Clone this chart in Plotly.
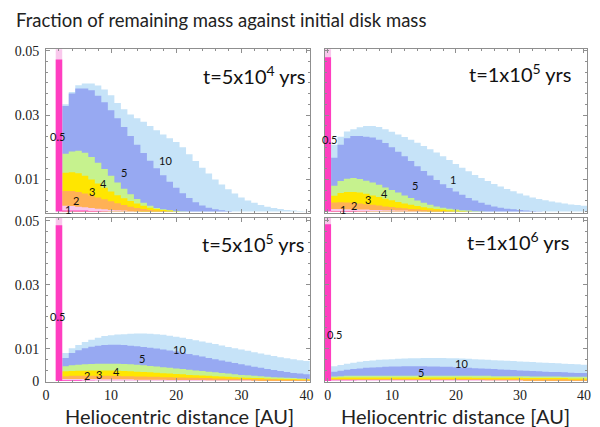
import plotly.graph_objects as go

# bin centres (AU)
left_bins = list(range(2, 41))    # left column: bins 2..40
right_bins = list(range(0, 41))   # right column: bins 0..40

sizes = ["10", "5", "4", "3", "2", "1", "0.5"]
colors = {"10": "#c6e3f8", "5": "#97a9f2", "4": "#c6f28e", "3": "#ffe600",
          "2": "#ffb155", "1": "#f9c8ec", "0.5": "#ff3ec0"}

# ---------- t = 5x10^4 yrs (top-left), bins 2..40 ----------
tl_10 = [0, 0.0334, 0.0372, 0.0393, 0.0398, 0.0398, 0.0392, 0.0380, 0.0362, 0.0338, 0.0318,
         0.0302, 0.0290, 0.0279, 0.0266, 0.0253, 0.0240, 0.0228, 0.0216, 0.0200, 0.0178,
         0.0157, 0.0136, 0.0118, 0.0100, 0.0084, 0.0069, 0.0056, 0.0044, 0.0034, 0.0027,
         0.0020, 0.0015, 0.0011, 0.0008, 0.0005, 0.0003, 0.0002, 0.0001]
tl_5 = [0, 0.0328, 0.0367, 0.0383, 0.0383, 0.0377, 0.0360, 0.0340, 0.0315, 0.0290, 0.0263,
        0.0235, 0.0208, 0.0182, 0.0158, 0.0135, 0.0113, 0.0093, 0.0074, 0.0057, 0.0042,
        0.0029, 0.0019, 0.0012, 0.0007, 0.0004, 0.0002]
tl_4 = [0, 0.0180, 0.0187, 0.0189, 0.0183, 0.0170, 0.0152, 0.0132, 0.0111, 0.0090, 0.0071,
        0.0054, 0.0039, 0.0027, 0.0018, 0.0011, 0.0007, 0.0004, 0.0002, 0.0001]
tl_3 = [0, 0.0121, 0.0122, 0.0119, 0.0111, 0.0100, 0.0087, 0.0074, 0.0062, 0.0051, 0.0041,
        0.0033, 0.0025, 0.0018, 0.0012, 0.0008, 0.0005, 0.0003, 0.0001]
tl_2 = [0, 0.0064, 0.0064, 0.0061, 0.0056, 0.0050, 0.0044, 0.0038, 0.0032, 0.0026, 0.0020,
        0.0015, 0.0011, 0.0008, 0.0005, 0.0003, 0.0002, 0.0001]
tl_1 = [0.0515, 0.0018, 0.0017, 0.0015, 0.0013, 0.0011, 0.0009, 0.0007, 0.0005, 0.0004,
        0.0003, 0.0002, 0.0001]
tl_05 = [0.0473, 0.0003, 0.0003, 0.0003, 0.0003, 0.0002, 0.0002, 0.0001]

# ---------- t = 1x10^5 yrs (top-right), bins 0..40 ----------
tr_10 = [0, 0.0208, 0.0233, 0.0249, 0.0256, 0.0262, 0.0266, 0.0266, 0.0263, 0.0256, 0.0248,
         0.0240, 0.0232, 0.0223, 0.0214, 0.0204, 0.0194, 0.0184, 0.0172, 0.0160, 0.0148,
         0.0136, 0.0125, 0.0114, 0.0104, 0.0095, 0.0086, 0.0078, 0.0070, 0.0063, 0.0056,
         0.0050, 0.0044, 0.0039, 0.0035, 0.0031, 0.0028, 0.0025, 0.0022, 0.0020, 0.0018]
tr_5 = [0, 0.0167, 0.0208, 0.0228, 0.0235, 0.0235, 0.0233, 0.0230, 0.0223, 0.0213, 0.0200,
        0.0186, 0.0172, 0.0157, 0.0141, 0.0126, 0.0112, 0.0098, 0.0085, 0.0073, 0.0062,
        0.0052, 0.0042, 0.0034, 0.0027, 0.0021, 0.0016, 0.0012, 0.0009, 0.0007, 0.0005,
        0.0003, 0.0002, 0.0001]
tr_4 = [0, 0.0080, 0.0095, 0.0102, 0.0104, 0.0101, 0.0096, 0.0090, 0.0083, 0.0075, 0.0067,
        0.0059, 0.0050, 0.0042, 0.0034, 0.0027, 0.0021, 0.0016, 0.0012, 0.0009, 0.0006,
        0.0004, 0.0003, 0.0002, 0.0001]
tr_3 = [0, 0.0049, 0.0058, 0.0061, 0.0061, 0.0059, 0.0055, 0.0050, 0.0045, 0.0040, 0.0035,
        0.0030, 0.0025, 0.0021, 0.0017, 0.0013, 0.0010, 0.0008, 0.0006, 0.0004, 0.0003,
        0.0002, 0.0001]
tr_2 = [0, 0.0028, 0.0029, 0.0028, 0.0027, 0.0025, 0.0023, 0.0021, 0.0019, 0.0016, 0.0014,
        0.0012, 0.0010, 0.0008, 0.0007, 0.0005, 0.0004, 0.0003, 0.0002, 0.0001]
tr_1 = [0.0515, 0.0008, 0.0008, 0.0007, 0.0007, 0.0006, 0.0006, 0.0005, 0.0005, 0.0004,
        0.0004, 0.0003, 0.0003, 0.0002, 0.0002, 0.0001]
tr_05 = [0.0480, 0.0002, 0.0002, 0.0002, 0.0002, 0.0001, 0.0001]

# ---------- t = 5x10^5 yrs (bottom-left), bins 2..40 ----------
bl_10 = [0, 0.0087, 0.0102, 0.0112, 0.0122, 0.0129, 0.0135, 0.0140, 0.0143, 0.0145, 0.0146,
         0.0147, 0.0148, 0.0148, 0.0147, 0.0146, 0.0144, 0.0141, 0.0138, 0.0135, 0.0131,
         0.0127, 0.0123, 0.0119, 0.0115, 0.0111, 0.0106, 0.0102, 0.0098, 0.0094, 0.0090,
         0.0086, 0.0082, 0.0078, 0.0074, 0.0071, 0.0068, 0.0065, 0.0062]
bl_5 = [0, 0.0072, 0.0087, 0.0096, 0.0102, 0.0107, 0.0110, 0.0112, 0.0113, 0.0113, 0.0112,
        0.0110, 0.0108, 0.0106, 0.0104, 0.0101, 0.0098, 0.0095, 0.0092, 0.0088, 0.0084,
        0.0080, 0.0076, 0.0072, 0.0068, 0.0064, 0.0060, 0.0056, 0.0052, 0.0048, 0.0044,
        0.0041, 0.0037, 0.0034, 0.0031, 0.0028, 0.0025, 0.0023, 0.0021]
bl_4 = [0, 0.0046, 0.0049, 0.0051, 0.0052, 0.0053, 0.0054, 0.0054, 0.0054, 0.0054, 0.0053,
        0.0052, 0.0051, 0.0049, 0.0047, 0.0045, 0.0043, 0.0041, 0.0039, 0.0037, 0.0035,
        0.0033, 0.0031, 0.0029, 0.0027, 0.0025, 0.0023, 0.0021, 0.0019, 0.0018, 0.0016,
        0.0015, 0.0013, 0.0012, 0.0011, 0.0010, 0.0009, 0.0008, 0.0007]
bl_3 = [0, 0.0030, 0.0031, 0.0032, 0.0032, 0.0033, 0.0033, 0.0033, 0.0033, 0.0032, 0.0031,
        0.0030, 0.0029, 0.0028, 0.0027, 0.0026, 0.0024, 0.0023, 0.0022, 0.0021, 0.0019,
        0.0018, 0.0017, 0.0016, 0.0015, 0.0014, 0.0013, 0.0012, 0.0011, 0.0010, 0.0009,
        0.0009, 0.0008, 0.0007, 0.0007, 0.0006, 0.0006, 0.0005, 0.0005]
bl_2 = [0, 0.0015, 0.0016, 0.0016, 0.0016, 0.0016, 0.0016, 0.0016, 0.0016, 0.0016, 0.0015,
        0.0015, 0.0014, 0.0014, 0.0013, 0.0013, 0.0012, 0.0012, 0.0011, 0.0011, 0.0010,
        0.0010, 0.0009, 0.0009, 0.0008, 0.0008, 0.0007, 0.0007, 0.0006, 0.0006, 0.0006,
        0.0005, 0.0005, 0.0005, 0.0004, 0.0004, 0.0004, 0.0003, 0.0003]
bl_1 = [0.0515, 0.0006, 0.0006, 0.0006, 0.0006, 0.0006, 0.0006, 0.0005, 0.0005, 0.0005, 0.0005,
        0.0005, 0.0004, 0.0004, 0.0004, 0.0004, 0.0004, 0.0003, 0.0003, 0.0003, 0.0003,
        0.0003, 0.0003, 0.0002, 0.0002, 0.0002, 0.0002, 0.0002, 0.0002, 0.0002, 0.0001]
bl_05 = [0.0486, 0.0002, 0.0002, 0.0002, 0.0001, 0.0001]

# ---------- t = 1x10^6 yrs (bottom-right), bins 0..40 ----------
br_10 = [0, 0.0046, 0.0050, 0.0054, 0.0057, 0.0060, 0.0062, 0.0064, 0.0066, 0.0067, 0.0068,
         0.0069, 0.0070, 0.0071, 0.0071, 0.0072, 0.0072, 0.0072, 0.0072, 0.0071, 0.0071,
         0.0070, 0.0069, 0.0068, 0.0067, 0.0066, 0.0065, 0.0064, 0.0063, 0.0062, 0.0061,
         0.0060, 0.0059, 0.0058, 0.0057, 0.0056, 0.0055, 0.0054, 0.0053, 0.0052, 0.0051]
br_5 = [0, 0.0029, 0.0032, 0.0035, 0.0037, 0.0039, 0.0041, 0.0042, 0.0043, 0.0044, 0.0045,
        0.0045, 0.0046, 0.0046, 0.0046, 0.0046, 0.0045, 0.0045, 0.0044, 0.0044, 0.0043,
        0.0042, 0.0041, 0.0040, 0.0039, 0.0038, 0.0037, 0.0036, 0.0035, 0.0034, 0.0033,
        0.0032, 0.0031, 0.0030, 0.0029, 0.0028, 0.0028, 0.0027, 0.0026, 0.0025, 0.0025]
br_4 = [0, 0.0014, 0.0015, 0.0016, 0.0016, 0.0016, 0.0016, 0.0016, 0.0016, 0.0016, 0.0016,
        0.0016, 0.0016, 0.0016, 0.0016, 0.0016, 0.0016, 0.0016, 0.0016, 0.0016, 0.0016,
        0.0016, 0.0016, 0.0016, 0.0016, 0.0016, 0.0015, 0.0015, 0.0015, 0.0015, 0.0015,
        0.0015, 0.0014, 0.0014, 0.0014, 0.0014, 0.0014, 0.0013, 0.0013, 0.0013, 0.0013]
br_3 = [0, 0.0010, 0.0011, 0.0011, 0.0011, 0.0011, 0.0011, 0.0011, 0.0011, 0.0011, 0.0011,
        0.0011, 0.0011, 0.0011, 0.0011, 0.0011, 0.0011, 0.0011, 0.0011, 0.0011, 0.0011,
        0.0011, 0.0011, 0.0010, 0.0010, 0.0010, 0.0010, 0.0010, 0.0010, 0.0010, 0.0010,
        0.0009, 0.0009, 0.0009, 0.0009, 0.0009, 0.0009, 0.0009, 0.0008, 0.0008, 0.0008]
br_2 = [0, 0.0006, 0.0006, 0.0006, 0.0006, 0.0006, 0.0006, 0.0006, 0.0006, 0.0006, 0.0006,
        0.0006, 0.0006, 0.0006, 0.0006, 0.0006, 0.0006, 0.0006, 0.0006, 0.0006, 0.0006,
        0.0006, 0.0006, 0.0006, 0.0006, 0.0005, 0.0005, 0.0005, 0.0005, 0.0005, 0.0005,
        0.0005, 0.0005, 0.0005, 0.0005, 0.0005, 0.0005, 0.0005, 0.0004, 0.0004, 0.0004]
br_1 = [0.0515, 0.0003, 0.0003, 0.0003, 0.0003, 0.0003, 0.0003, 0.0003, 0.0003, 0.0003, 0.0003,
        0.0003, 0.0003, 0.0003, 0.0003, 0.0003, 0.0003, 0.0003, 0.0003, 0.0003, 0.0003,
        0.0003, 0.0003, 0.0003, 0.0003, 0.0002, 0.0002, 0.0002, 0.0002, 0.0002, 0.0002]
br_05 = [0.0489, 0.0001, 0.0001, 0.0001, 0.0001]

panels = [
    (left_bins, {"10": tl_10, "5": tl_5, "4": tl_4, "3": tl_3, "2": tl_2, "1": tl_1, "0.5": tl_05}, "x", "y"),
    (right_bins, {"10": tr_10, "5": tr_5, "4": tr_4, "3": tr_3, "2": tr_2, "1": tr_1, "0.5": tr_05}, "x2", "y2"),
    (left_bins, {"10": bl_10, "5": bl_5, "4": bl_4, "3": bl_3, "2": bl_2, "1": bl_1, "0.5": bl_05}, "x3", "y3"),
    (right_bins, {"10": br_10, "5": br_5, "4": br_4, "3": br_3, "2": br_2, "1": br_1, "0.5": br_05}, "x4", "y4"),
]

# in-plot size labels: (text, x AU, y value)
tl_labels = [("0.5", 1.85, 0.0232), ("1", 3.4, 0.0007), ("2", 4.6, 0.0033), ("3", 7.0, 0.0061),
             ("4", 8.85, 0.0088), ("5", 12.0, 0.0121), ("10", 18.4, 0.0158)]
tr_labels = [("0.5", 0.2, 0.0225), ("1", 2.4, 0.0006), ("2", 4.1, 0.0018), ("3", 6.3, 0.0038),
             ("4", 8.9, 0.0057), ("5", 13.6, 0.0082), ("1", 19.5, 0.0100)]
bl_labels = [("0.5", 1.85, 0.0200), ("2", 6.35, 0.0016), ("3", 8.2, 0.0019), ("4", 10.9, 0.0029),
             ("5", 14.7, 0.0070), ("10", 20.5, 0.0099)]
br_labels = [("0.5", 1.05, 0.0145), ("5", 14.55, 0.0026), ("10", 20.9, 0.0055)]
panel_labels = [tl_labels, tr_labels, bl_labels, br_labels]
time_labels = ["t=5x10<sup>4</sup> yrs", "t=1x10<sup>5</sup> yrs",
               "t=5x10<sup>5</sup> yrs", "t=1x10<sup>6</sup> yrs"]

fig = go.Figure()

for bins, series, xa, ya in panels:
    for s in sizes:
        vals = series[s] + [0] * (len(bins) - len(series[s]))
        edges = [c - 0.5 for c in bins] + [bins[-1] + 0.5]
        ys = vals + [vals[-1]]
        fig.add_trace(go.Scatter(
            x=edges, y=ys, mode="lines",
            line=dict(width=0, shape="hv", color=colors[s]),
            fill="tozeroy", fillcolor=colors[s],
            xaxis=xa, yaxis=ya, hoverinfo="skip", showlegend=False))

W, H = 600, 427
def px_x(p):
    return p / W
def px_y(p):
    return 1 - p / H

frame = "#8f8f8f"
left_dom = [px_x(42.5), px_x(310)]
right_dom = [px_x(325), px_x(591)]
top_dom = [px_y(214), px_y(45.5)]
bot_dom = [px_y(387.5), px_y(219)]

xtick_font = dict(family="Liberation Serif", size=14, color="#222")
ytick_font = dict(family="Liberation Serif", size=14, color="#222")

def xaxis(dom, rng, labels, anchor):
    return dict(domain=dom, range=rng, anchor=anchor, showgrid=False, zeroline=False,
                showline=True, linecolor=frame, linewidth=1, mirror="ticks",
                ticks="inside", ticklen=4, tickcolor=frame, tickwidth=1,
                tickvals=[0, 10, 20, 30, 40], showticklabels=labels, tickfont=xtick_font,
                ticklabelstandoff=1,
                minor=dict(dtick=2, tick0=0, ticks="inside", ticklen=2, tickcolor=frame))

def yaxis(dom, rng, vals, labels, anchor):
    return dict(domain=dom, range=rng, anchor=anchor, showgrid=False, zeroline=False,
                showline=True, linecolor=frame, linewidth=1, mirror="ticks",
                ticks="inside", ticklen=4, tickcolor=frame, tickwidth=1,
                tickvals=vals, ticktext=[("0" if v == 0 else "%.2f" % v) for v in vals],
                showticklabels=labels, tickfont=ytick_font, ticklabelstandoff=3,
                minor=dict(dtick=0.01 / 3, tick0=0, ticks="inside", ticklen=2, tickcolor=frame))

top_rng = [-0.00045, 0.0505]
bot_rng = [-0.0002, 0.0509]

fig.update_layout(
    width=W, height=H, margin=dict(l=0, r=0, t=0, b=0),
    paper_bgcolor="white", plot_bgcolor="white",
    xaxis=xaxis(left_dom, [0, 40.5], False, "y"),
    yaxis=yaxis(top_dom, top_rng, [0.01, 0.03, 0.05], True, "x"),
    xaxis2=xaxis(right_dom, [-0.5, 40.5], False, "y2"),
    yaxis2=yaxis(top_dom, top_rng, [0.01, 0.03, 0.05], False, "x2"),
    xaxis3=xaxis(left_dom, [0, 40.5], True, "y3"),
    yaxis3=yaxis(bot_dom, bot_rng, [0, 0.01, 0.03, 0.05], True, "x3"),
    xaxis4=xaxis(right_dom, [-0.5, 40.5], True, "y4"),
    yaxis4=yaxis(bot_dom, bot_rng, [0, 0.01, 0.03, 0.05], False, "x4"),
)

annotations = []
axes_ids = [("x", "y"), ("x2", "y2"), ("x3", "y3"), ("x4", "y4")]
for (xa, ya), labs in zip(axes_ids, panel_labels):
    for txt, xv, yv in labs:
        annotations.append(dict(text=txt, x=xv, y=yv, xref=xa, yref=ya, showarrow=False,
                                font=dict(family="Lato", size=11, color="#111")))

time_pos = [(307, 72), (577, 70), (306, 245), (575, 243)]
for txt, (px, py) in zip(time_labels, time_pos):
    annotations.append(dict(text=txt, x=px_x(px), y=px_y(py), xref="paper", yref="paper",
                            xanchor="right", yanchor="middle", showarrow=False,
                            font=dict(family="Lato", size=20, color="#111")))

annotations.append(dict(text="Fraction of remaining mass against initial disk mass",
                        x=px_x(10), y=px_y(15), xref="paper", yref="paper",
                        xanchor="left", yanchor="middle", showarrow=False,
                        font=dict(family="Lato", size=18.5, color="#222")))
for cx in (178, 458):
    annotations.append(dict(text="Heliocentric distance [AU]", x=px_x(cx), y=px_y(409),
                            xref="paper", yref="paper", xanchor="center", yanchor="top",
                            borderpad=0, showarrow=False,
                            font=dict(family="Lato", size=20, color="#222")))

fig.update_layout(annotations=annotations)
fig.write_html("out.html", config={"displayModeBar": False},
               post_script="document.body.style.margin='0';document.body.style.overflow='hidden';")
